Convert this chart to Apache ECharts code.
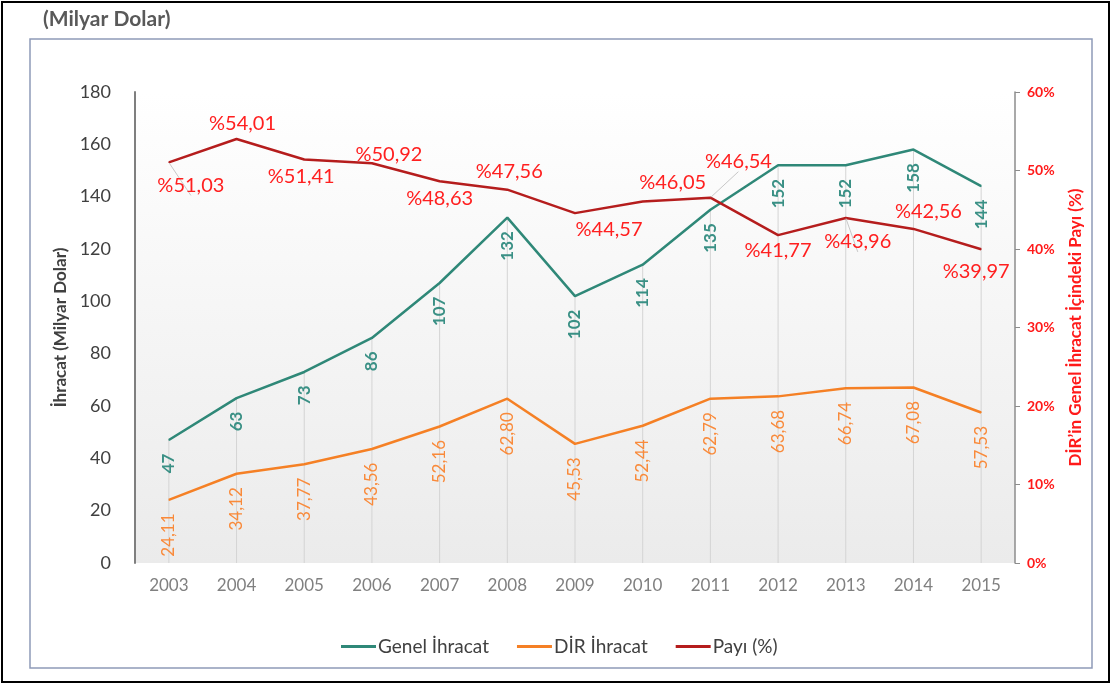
<!DOCTYPE html>
<html>
<head>
<meta charset="utf-8">
<script src="https://cdn.jsdelivr.net/npm/echarts@6/dist/echarts.min.js"></script>
<style>
  html, body { margin: 0; padding: 0; background: #fff; }
  #chart { width: 1113px; height: 686px; }
</style>
</head>
<body>
<div id="chart"></div>
<script>
// chart data
const years = ['2003', '2004', '2005', '2006', '2007', '2008', '2009', '2010', '2011', '2012', '2013', '2014', '2015'];
const genelIhracat = [47, 63, 73, 86, 107, 132, 102, 114, 135, 152, 152, 158, 144];
const dirIhracat = [24.11, 34.12, 37.77, 43.56, 52.16, 62.80, 45.53, 52.44, 62.79, 63.68, 66.74, 67.08, 57.53];
const payi = [51.03, 54.01, 51.41, 50.92, 48.63, 47.56, 44.57, 46.05, 46.54, 41.77, 43.96, 42.56, 39.97];

// where each "Payı" label sits relative to its point (px)
const payiLabelOffsets = [
  [22, 23], [6, -15], [-3, 17], [17, -9], [0, 17], [2, -18], [34, 16],
  [30, -19], [28, -36], [0, 15], [12, 24], [15, -17], [-5, 22]
];
// labels that were dragged away get a small leader line
const payiLeaders = [0, 8, 10];

const fmtComma = v => v.toFixed(2).replace('.', ',');

const chart = echarts.init(document.getElementById('chart'), null, { renderer: 'canvas' });

const FONT = 'Lato';
const GREEN = '#2f8878';
const ORANGE = '#f58025';
const RED = '#b51d1d';

const option = {
  animation: false,
  textStyle: { fontFamily: FONT },
  title: {
    text: '(Milyar Dolar)',
    left: 38,
    top: 4,
    textStyle: { fontSize: 21, fontWeight: 'bold', color: '#595959', fontFamily: FONT }
  },
  graphic: [
    {
      type: 'rect',
      shape: { x: 2, y: 2, width: 1107, height: 680 },
      style: { fill: 'none', stroke: '#000', lineWidth: 2 },
      silent: true
    },
    {
      type: 'rect',
      shape: { x: 30, y: 39, width: 1062, height: 629 },
      style: { fill: 'none', stroke: '#8e9ab8', lineWidth: 1.5 },
      silent: true
    }
  ],
  legend: {
    left: 336,
    top: 632,
    itemWidth: 35,
    itemHeight: 3,
    itemGap: 28,
    icon: 'rect',
    data: ['Genel İhracat', 'DİR İhracat', 'Payı (%)'],
    textStyle: { fontSize: 19, color: '#404040', fontFamily: FONT, padding: [0, 0, 0, -3] }
  },
  grid: {
    left: 135,
    right: 98,
    top: 92,
    bottom: 123,
    show: true,
    borderWidth: 0,
    backgroundColor: new echarts.graphic.LinearGradient(0, 0, 0, 1, [
      { offset: 0, color: '#ffffff' },
      { offset: 1, color: '#ebebeb' }
    ])
  },
  xAxis: {
    type: 'category',
    data: years,
    boundaryGap: true,
    axisLine: { show: false },
    axisTick: { show: false },
    axisLabel: { color: '#808080', fontSize: 17, margin: 14, fontFamily: FONT }
  },
  yAxis: [
    {
      type: 'value',
      min: 0,
      max: 180,
      interval: 20,
      name: 'İhracat (Milyar Dolar)',
      nameLocation: 'middle',
      nameGap: 66,
      nameRotate: 90,
      nameTextStyle: { fontSize: 17, fontWeight: 'bold', color: '#404040', fontFamily: FONT },
      axisLine: { show: true, lineStyle: { color: '#7f7f7f', width: 2 } },
      axisTick: { show: false },
      splitLine: { show: false },
      axisLabel: { color: '#404040', fontSize: 18, margin: 24, fontFamily: FONT }
    },
    {
      type: 'value',
      min: 0,
      max: 60,
      interval: 10,
      position: 'right',
      name: 'DİR’in Genel İhracat İçindeki Payı (%)',
      nameLocation: 'middle',
      nameGap: 52,
      nameRotate: 90,
      nameTextStyle: { fontSize: 17, fontWeight: 'bold', color: '#ff1a1a', fontFamily: FONT },
      axisLine: { show: true, lineStyle: { color: '#8c8c8c', width: 1.5 } },
      axisTick: { show: true, length: 5, lineStyle: { color: '#8c8c8c' } },
      splitLine: { show: false },
      axisLabel: { color: '#ff1a1a', fontSize: 14, fontWeight: 'bold', margin: 12, formatter: '{value}%', fontFamily: FONT }
    }
  ],
  series: [
    {
      // drop lines from the Genel İhracat points to the axis
      name: 'drop',
      type: 'bar',
      data: genelIhracat,
      barWidth: 1,
      silent: true,
      z: 1,
      itemStyle: { color: '#d4d4d4' }
    },
    {
      name: 'Genel İhracat',
      type: 'line',
      data: genelIhracat,
      symbol: 'circle',
      symbolSize: 1,
      z: 3,
      itemStyle: { color: GREEN },
      lineStyle: { color: GREEN, width: 2.5 },
      label: {
        show: true,
        position: 'bottom',
        distance: 13,
        rotate: 90,
        align: 'right',
        verticalAlign: 'middle',
        color: '#3a9085',
        fontSize: 17,
        fontWeight: 'bold',
        fontFamily: FONT
      }
    },
    {
      name: 'DİR İhracat',
      type: 'line',
      data: dirIhracat,
      symbol: 'circle',
      symbolSize: 1,
      z: 3,
      itemStyle: { color: ORANGE },
      lineStyle: { color: ORANGE, width: 2.5 },
      label: {
        show: true,
        position: 'bottom',
        distance: 13,
        rotate: 90,
        align: 'right',
        verticalAlign: 'middle',
        color: '#f98a3a',
        fontSize: 17,
        formatter: p => fmtComma(p.value),
        fontFamily: FONT
      }
    },
    {
      name: 'Payı (%)',
      type: 'line',
      yAxisIndex: 1,
      symbol: 'circle',
      symbolSize: 1,
      z: 4,
      data: payi.map((v, i) => ({
        value: v,
        label: { offset: payiLabelOffsets[i] },
        labelLine: { show: payiLeaders.includes(i) }
      })),
      itemStyle: { color: RED },
      lineStyle: { color: RED, width: 2.5 },
      labelLine: { show: false, length2: 0, lineStyle: { color: '#c8c8c8', width: 1 } },
      label: {
        show: true,
        position: 'inside',
        color: '#ff2020',
        fontSize: 20,
        formatter: p => '%' + fmtComma(p.value),
        fontFamily: FONT
      }
    }
  ]
};

chart.setOption(option);
window.addEventListener('resize', () => chart.resize());
</script>
</body>
</html>
